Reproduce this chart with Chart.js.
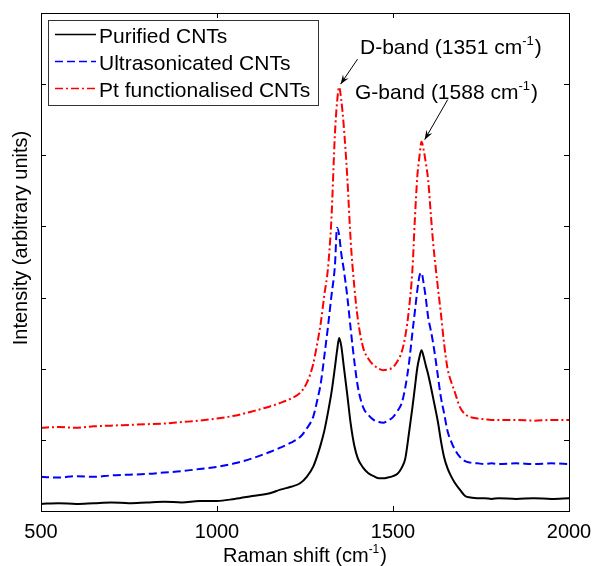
<!DOCTYPE html>
<html>
<head>
<meta charset="utf-8">
<script src="https://cdn.jsdelivr.net/npm/chart.js@4.4.1/dist/chart.umd.min.js"></script>
<style>
  html, body { margin: 0; padding: 0; background: #ffffff; }
  #wrap { width: 592px; height: 566px; position: relative; }
</style>
</head>
<body>
<div id="wrap"><canvas id="c" width="592" height="566"></canvas></div>
<script>
// Raman shift (cm^-1)
const ramanShift = [500,550,600,650,700,750,800,850,900,950,1000,1050,1100,1150,
  1180,1210,1236,1255,1273,
  1285,1295,1305,1315,1325,1335,
  1341,1347,1353,1360,
  1370,1380,1390,1400,
  1415,1430,1445,1460,1472,1485,1500,
  1512,1525,1535,1545,1555,
  1562,1569,1575,1581,1587,1593,1600,
  1607,1614,1621,1628,1636,1645,
  1655,1665,1675,1690,
  1705,1720,1740,1760,1780,1800,
  1850,1900,1950,2000];

const purifiedCNTs = [0.10,0.11,0.10,0.11,0.12,0.11,0.12,0.13,0.12,0.14,0.14,0.17,0.21,0.25,
  0.30,0.34,0.39,0.48,0.62,
  0.78,0.94,1.13,1.38,1.66,2.02,
  2.25,2.43,2.32,2.04,
  1.64,1.22,0.92,0.74,
  0.61,0.53,0.49,0.46,0.46,0.47,0.49,
  0.52,0.61,0.74,1.08,1.45,
  1.73,2.01,2.16,2.26,2.17,2.05,1.92,
  1.76,1.59,1.42,1.24,0.99,0.76,
  0.60,0.49,0.40,0.30,
  0.21,0.19,0.18,0.18,0.17,0.18,
  0.17,0.18,0.17,0.18];

const ultrasonicatedCNTs = [0.48,0.47,0.49,0.48,0.50,0.51,0.52,0.54,0.56,0.59,0.62,0.67,0.74,0.83,
  0.89,0.96,1.04,1.16,1.32,
  1.56,1.80,2.18,2.58,3.02,3.45,
  3.98,3.88,3.62,3.40,
  3.02,2.55,2.11,1.75,
  1.46,1.35,1.28,1.25,1.24,1.27,1.32,
  1.40,1.52,1.74,2.06,2.50,
  2.80,3.10,3.30,3.35,3.20,3.00,2.72,
  2.55,2.36,2.13,1.88,1.60,1.38,
  1.12,0.98,0.87,0.76,
  0.70,0.68,0.67,0.66,0.67,0.66,
  0.67,0.66,0.67,0.66];

const ptFunctionalisedCNTs = [1.17,1.18,1.17,1.19,1.20,1.21,1.22,1.23,1.25,1.27,1.30,1.34,1.40,1.47,
  1.52,1.58,1.66,1.80,2.06,
  2.36,2.65,3.04,3.40,4.10,5.30,
  5.74,5.96,5.78,5.42,
  4.70,3.78,3.16,2.70,
  2.30,2.14,2.05,2.00,1.98,1.99,2.02,
  2.10,2.24,2.46,2.82,3.38,
  4.09,4.70,4.98,5.19,5.08,4.90,4.65,
  4.20,3.77,3.43,3.12,2.78,2.36,
  2.00,1.82,1.68,1.46,
  1.36,1.32,1.30,1.29,1.28,1.28,
  1.28,1.27,1.28,1.28];

const seriesLabels = ['Purified CNTs', 'Ultrasonicated CNTs', 'Pt functionalised CNTs'];
const xTickValues = [500, 1000, 1500, 2000];
const yTickValues = [0, 1, 2, 3, 4, 5, 6, 7];
const bandPeaks = [
  { name: 'D-band', pos: 1351, arrowX: 1351, tipY: 6.0 },
  { name: 'G-band', pos: 1588, arrowX: 1590, tipY: 5.22 }
];

const toPoints = (ys) => ramanShift.map((x, i) => ({ x: x, y: ys[i] }));

const FONT = '"Liberation Sans", Arial, Helvetica, sans-serif';

function drawSupText(ctx, x, y, main, sup, tail, size, align) {
  ctx.font = size + 'px ' + FONT;
  const w1 = ctx.measureText(main).width;
  const supSize = Math.round(size * 0.62);
  ctx.font = supSize + 'px ' + FONT;
  const w2 = ctx.measureText(sup).width;
  ctx.font = size + 'px ' + FONT;
  const w3 = ctx.measureText(tail).width;
  const total = w1 + w2 + w3 + 1;
  let sx = x;
  if (align === 'center') sx = x - total / 2;
  ctx.textAlign = 'left';
  ctx.textBaseline = 'alphabetic';
  ctx.fillText(main, sx, y);
  ctx.font = supSize + 'px ' + FONT;
  ctx.fillText(sup, sx + w1, y - size * 0.45);
  ctx.font = size + 'px ' + FONT;
  ctx.fillText(tail, sx + w1 + w2 + 1, y);
}

function arrow(ctx, x1, y1, x2, y2) {
  ctx.beginPath();
  ctx.moveTo(x1, y1);
  ctx.lineTo(x2, y2);
  ctx.stroke();
  const ang = Math.atan2(y2 - y1, x2 - x1);
  const L = 10, W = 0.35;
  ctx.beginPath();
  ctx.moveTo(x2, y2);
  ctx.lineTo(x2 - L * Math.cos(ang - W), y2 - L * Math.sin(ang - W));
  ctx.lineTo(x2 - L * 0.6 * Math.cos(ang), y2 - L * 0.6 * Math.sin(ang));
  ctx.lineTo(x2 - L * Math.cos(ang + W), y2 - L * Math.sin(ang + W));
  ctx.closePath();
  ctx.fill();
}

const decor = {
  id: 'decor',
  afterDraw(chart) {
    const ctx = chart.ctx;
    const a = chart.chartArea;
    const xs = chart.scales.x, ys = chart.scales.y;
    ctx.save();
    ctx.strokeStyle = '#000';
    ctx.fillStyle = '#000';
    ctx.lineWidth = 1;
    // frame
    ctx.strokeRect(Math.round(a.left) + 0.5, Math.round(a.top) + 0.5,
      Math.round(a.right - a.left), Math.round(a.bottom - a.top));
    // inward tick marks
    const TL = 5;
    ctx.beginPath();
    xTickValues.forEach(v => {
      const px = Math.round(xs.getPixelForValue(v)) + 0.5;
      ctx.moveTo(px, a.bottom); ctx.lineTo(px, a.bottom - TL);
      ctx.moveTo(px, a.top); ctx.lineTo(px, a.top + TL);
    });
    yTickValues.forEach(v => {
      const py = Math.round(ys.getPixelForValue(v)) + 0.5;
      ctx.moveTo(a.left, py); ctx.lineTo(a.left + TL, py);
      ctx.moveTo(a.right, py); ctx.lineTo(a.right - TL, py);
    });
    ctx.stroke();

    // axis titles
    ctx.fillStyle = '#000';
    drawSupText(ctx, (a.left + a.right) / 2, 562, 'Raman shift (cm', '-1', ')', 20, 'center');
    ctx.save();
    ctx.translate(27, (a.top + a.bottom) / 2 - 24);
    ctx.rotate(-Math.PI / 2);
    ctx.font = '20px ' + FONT;
    ctx.textAlign = 'center';
    ctx.textBaseline = 'alphabetic';
    ctx.fillText('Intensity (arbitrary units)', 0, 0);
    ctx.restore();

    // legend
    const lx = 48.5, ly = 20.5, lw = 270, lh = 85;
    ctx.fillStyle = '#fff';
    ctx.fillRect(lx, ly, lw, lh);
    ctx.strokeStyle = '#333';
    ctx.strokeRect(lx, ly, lw, lh);
    chart.data.datasets.forEach((ds, i) => {
      const base = 43 + i * 27;
      const yy = base - 8.5;
      ctx.save();
      ctx.strokeStyle = ds.borderColor;
      ctx.lineWidth = 1.5;
      ctx.setLineDash(ds.borderDash || []);
      ctx.beginPath();
      ctx.moveTo(55, yy); ctx.lineTo(96, yy);
      ctx.stroke();
      ctx.restore();
      ctx.fillStyle = '#000';
      ctx.font = '21px ' + FONT;
      ctx.textAlign = 'left';
      ctx.textBaseline = 'alphabetic';
      ctx.fillText(ds.label, 99, base);
    });

    // band annotations
    ctx.fillStyle = '#000';
    ctx.strokeStyle = '#000';
    ctx.lineWidth = 1;
    const d = bandPeaks[0], g = bandPeaks[1];
    drawSupText(ctx, 360, 54, d.name + ' (' + d.pos + ' cm', '-1', ')', 21, 'left');
    drawSupText(ctx, 355, 99, g.name + ' (' + g.pos + ' cm', '-1', ')', 21, 'left');
    const dx = xs.getPixelForValue(d.arrowX), dy = ys.getPixelForValue(d.tipY);
    arrow(ctx, dx + 17, dy - 25, dx, dy);
    const gx = xs.getPixelForValue(g.arrowX), gy = ys.getPixelForValue(g.tipY);
    arrow(ctx, gx + 23, gy - 40, gx, gy);
    ctx.restore();
  }
};

new Chart(document.getElementById('c'), {
  type: 'line',
  data: {
    datasets: [
      { label: seriesLabels[0], data: toPoints(purifiedCNTs), borderColor: '#000000',
        borderWidth: 2, pointRadius: 0, fill: false, cubicInterpolationMode: 'monotone' },
      { label: seriesLabels[1], data: toPoints(ultrasonicatedCNTs), borderColor: '#0000ff',
        borderWidth: 2, borderDash: [8, 4], pointRadius: 0, fill: false, cubicInterpolationMode: 'monotone' },
      { label: seriesLabels[2], data: toPoints(ptFunctionalisedCNTs), borderColor: '#ff0000',
        borderWidth: 2, borderDash: [8, 3, 2, 3], pointRadius: 0, fill: false, cubicInterpolationMode: 'monotone' }
    ]
  },
  options: {
    responsive: false,
    animation: false,
    devicePixelRatio: 1,
    layout: { padding: { top: 13, right: 0, left: 0, bottom: 0 } },
    plugins: { legend: { display: false }, tooltip: { enabled: false } },
    scales: {
      x: {
        type: 'linear', min: 500, max: 2000,
        border: { display: false },
        grid: { display: false, drawTicks: false },
        afterFit: (s) => { s.height = 55; s.paddingRight = 23; s.paddingLeft = 0; },
        afterBuildTicks: (s) => { s.ticks = xTickValues.map(v => ({ value: v })); },
        ticks: { color: '#000', padding: 9, font: { size: 20, family: FONT }, maxRotation: 0,
          callback: (v) => String(v) }
      },
      y: {
        type: 'linear', min: 0, max: 7,
        border: { display: false },
        grid: { display: false, drawTicks: false },
        afterFit: (s) => { s.width = 41; },
        afterBuildTicks: (s) => { s.ticks = yTickValues.map(v => ({ value: v })); },
        ticks: { display: false }
      }
    }
  },
  plugins: [decor]
});
</script>
</body>
</html>
